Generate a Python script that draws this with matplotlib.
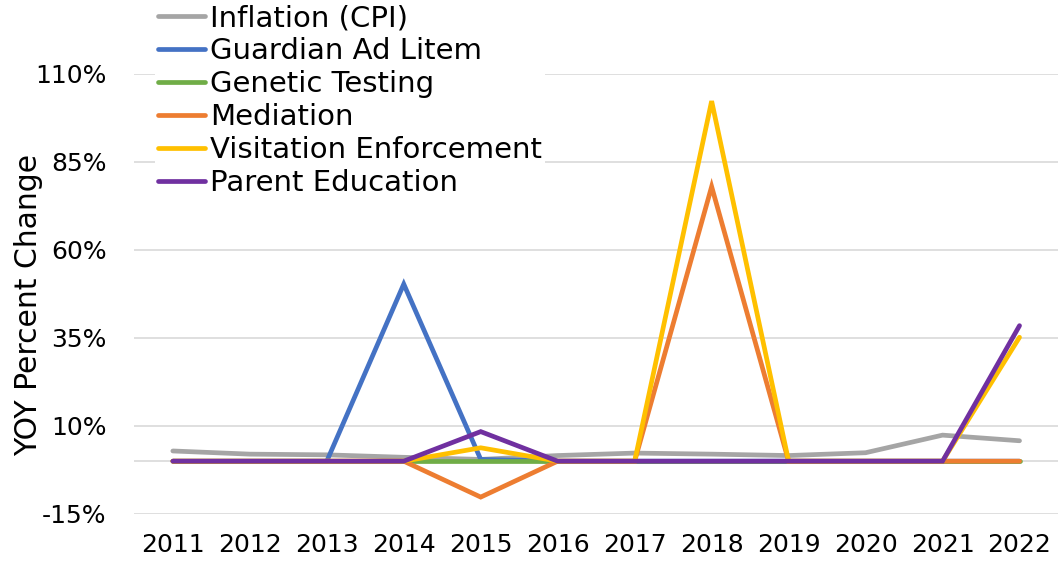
import matplotlib.pyplot as plt
from matplotlib.ticker import FuncFormatter

# dados (variacao % ano a ano)
anos = ['2011', '2012', '2013', '2014', '2015', '2016',
        '2017', '2018', '2019', '2020', '2021', '2022']
inflacao = [2.9, 2.0, 1.8, 1.1, 0.5, 1.6, 2.3, 2.0, 1.6, 2.4, 7.4, 5.8]
guardian = [0, 0, 0, 50.3, 0.5, 0, 0, 0, 0, 0, 0, 0]
genetic = [0, 0, 0, 0, 0, 0, 0, 0, 0, 0, 0, 0]
mediation = [0, 0, 0, 0, -10.2, 0, 0, 78.0, 0, 0, 0, 0]
visitation = [0, 0, 0, 0, 3.8, 0, 0, 102.3, 0, 0, 0, 35.2]
parent_ed = [0, 0, 0, 0, 8.4, 0, 0, 0, 0, 0, 0, 38.5]

series = [
    ('Inflation (CPI)', inflacao, '#A5A5A5'),
    ('Guardian Ad Litem', guardian, '#4472C4'),
    ('Genetic Testing', genetic, '#70AD47'),
    ('Mediation', mediation, '#ED7D31'),
    ('Visitation Enforcement', visitation, '#FFC000'),
    ('Parent Education', parent_ed, '#7030A0'),
]
yticks = [-15, 10, 35, 60, 85, 110]

plt.rcParams['font.family'] = ['DejaVu Sans']

fig = plt.figure(figsize=(10.58, 5.69), dpi=100)
ax = fig.add_axes([0.127, 0.0967, 0.873, 0.7733])

x = list(range(len(anos)))
for nome, valores, cor in series:
    ax.plot(x, valores, color=cor, lw=3.4, label=nome,
            solid_capstyle='round', solid_joinstyle='miter')

# eixo horizontal cruzando em 0
ax.axhline(0, color='#D9D9D9', lw=1.2, zorder=0.5)

ax.set_xlim(-0.5, len(anos) - 0.5)
ax.set_ylim(-15, 110)
ax.set_yticks(yticks)
ax.yaxis.set_major_formatter(FuncFormatter(lambda v, p: f'{v:.0f}%'))
ax.set_xticks(x)
ax.set_xticklabels(anos)
ax.tick_params(length=0, labelsize=18, colors='#000000')
ax.tick_params(axis='y', pad=20)
ax.tick_params(axis='x', pad=14)
ax.grid(axis='y', color='#D9D9D9', lw=1.2)
ax.set_axisbelow(True)
for s in ax.spines.values():
    s.set_visible(False)

ax.set_ylabel('YOY Percent Change', fontsize=21.5, va='center')
ax.yaxis.set_label_coords(-0.114, 0.475)

leg = ax.legend(loc='upper left', bbox_to_anchor=(0.1465, 0.998, 0, 0),
                bbox_transform=fig.transFigure, fontsize=21,
                frameon=True, framealpha=1, edgecolor='none',
                handlelength=1.6, handletextpad=0.18, labelspacing=0.17,
                borderpad=0.1, borderaxespad=0)
leg.set_zorder(5)

fig.savefig('out.png', dpi=100)
